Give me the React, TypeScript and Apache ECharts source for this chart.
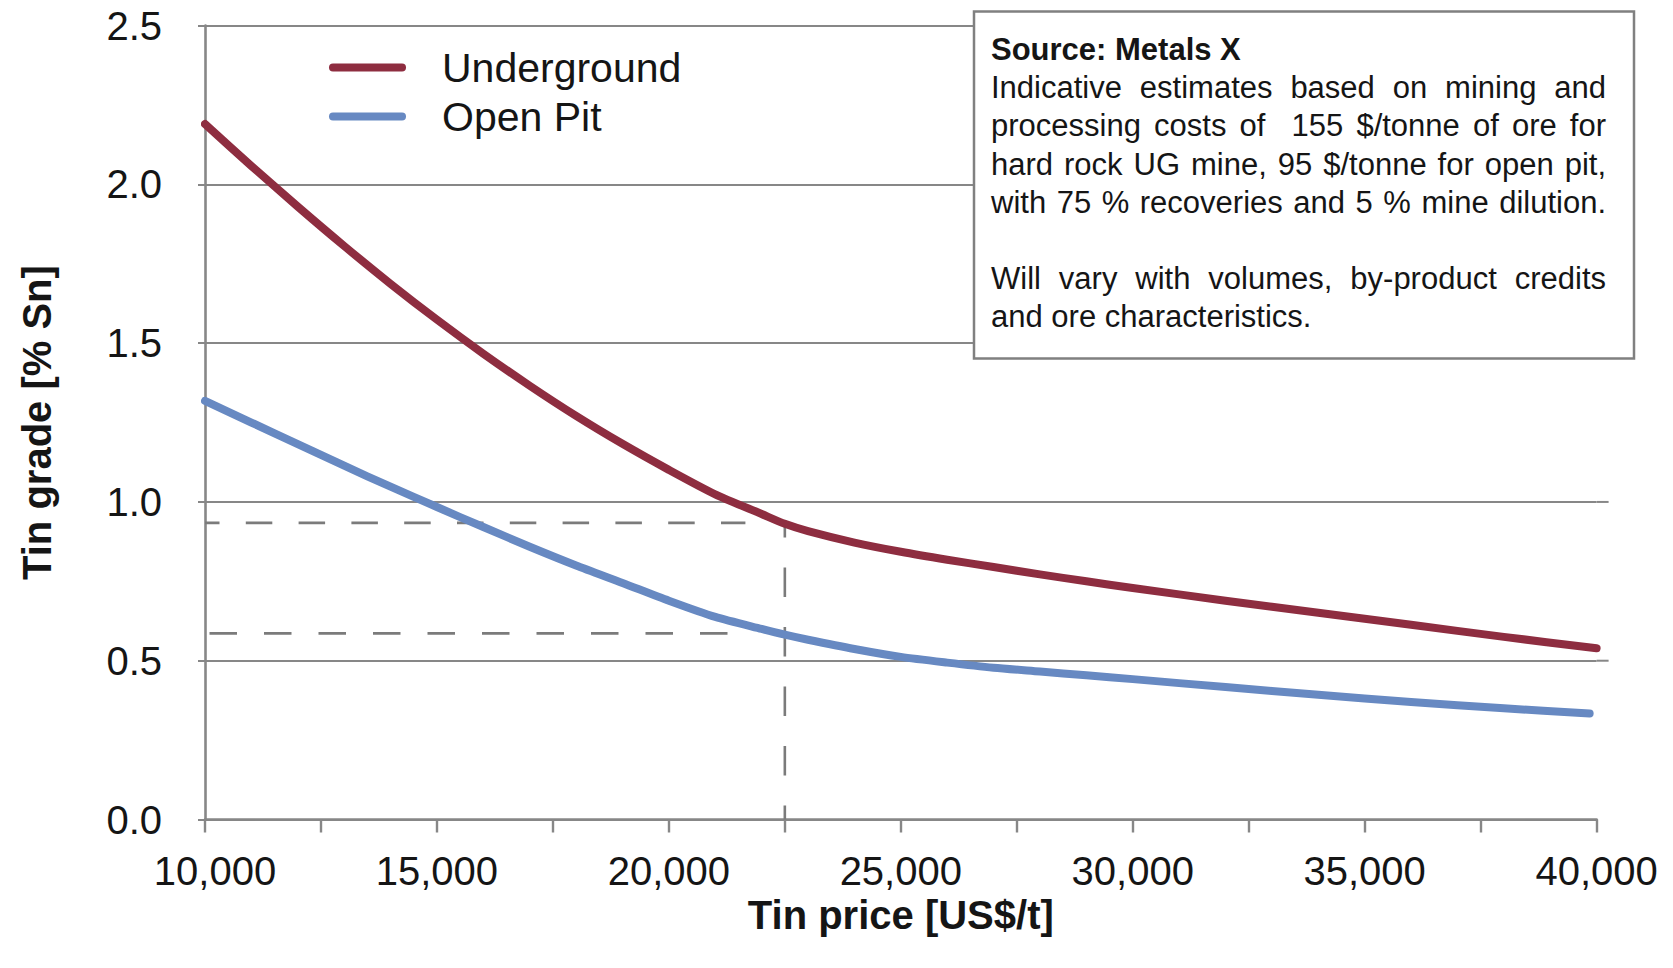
import React, { useEffect, useRef } from "react";
import * as echarts from "echarts";

// ---------- data ----------
const undergroundPrice = [10000, 11000, 12000, 13000, 14000, 15000, 16000, 17000, 18000, 19000, 20000, 21000, 22000, 22500, 23000, 24000, 25000, 26000, 27000, 28000, 29000, 30000, 32000, 34000, 36000, 38000, 40000];
const undergroundGrade = [2.19, 2.058, 1.93, 1.806, 1.687, 1.574, 1.467, 1.366, 1.271, 1.183, 1.101, 1.024, 0.962, 0.931, 0.908, 0.872, 0.843, 0.818, 0.795, 0.772, 0.75, 0.729, 0.689, 0.651, 0.613, 0.575, 0.539];

const openPitPrice = [10000, 11000, 12000, 13000, 14000, 15000, 16000, 17000, 18000, 19000, 20000, 21000, 22000, 22500, 23000, 24000, 25000, 26000, 27000, 28000, 29000, 30000, 32000, 34000, 36000, 38000, 39850];
const openPitGrade = [1.318, 1.25, 1.182, 1.114, 1.048, 0.984, 0.921, 0.859, 0.8, 0.745, 0.689, 0.638, 0.6, 0.582, 0.566, 0.537, 0.512, 0.494, 0.478, 0.466, 0.454, 0.442, 0.417, 0.393, 0.37, 0.35, 0.334];

// reference (dashed) lines: price / grade pairs
const ugRefPrice = [10000, 21650];
const ugRefGrade = [0.934, 0.934];
const opRefPrice = [10000, 21330];
const opRefGrade = [0.586, 0.586];
const priceRefPrice = [22500, 22500];
const priceRefGrade = [0.934, 0];

const gradeTicks = [0.5, 1.0, 1.5, 2.0, 2.5];

const seriesNames = ["Underground", "Open Pit"];
const xTitle = "Tin price [US$/t]";
const yTitle = "Tin grade [% Sn]";

const noteLines = [
  "Source: Metals X",
  "Indicative estimates based on mining and",
  "processing costs of  155 $/tonne of ore for",
  "hard rock UG mine, 95 $/tonne for open pit,",
  "with 75 % recoveries and 5 % mine dilution.",
  "",
  "Will vary with volumes, by-product credits",
  "and ore characteristics.",
];
const noteJustified = [false, true, true, true, true, false, true, false];
const noteBold = [true, false, false, false, false, false, false, false];

// ---------- style ----------
const FONT = "'Liberation Sans', Arial, sans-serif";
const TEXT = "#151515";
const GRID_GRAY = "#878787";
const DASH_GRAY = "#7b7b7b";
const RED = "#8E2D40";
const BLUE = "#6789C2";

const pairs = (xs: number[], ys: number[]) => xs.map((x, i) => [x, ys[i]]);

function buildNote(): any[] {
  const boxX = 974, boxY = 11.5, boxW = 660, boxH = 347;
  const left = 991, right = 1606;
  const firstY = 49.5, step = 38.2, size = 31;
  const canvas = document.createElement("canvas");
  const ctx = canvas.getContext("2d") as CanvasRenderingContext2D;
  const els: any[] = [
    {
      type: "rect",
      shape: { x: boxX, y: boxY, width: boxW, height: boxH },
      style: { fill: "#ffffff", stroke: "#808080", lineWidth: 2.5 },
      z: 100,
    },
  ];
  noteLines.forEach((line, i) => {
    if (!line) return;
    const y = firstY + i * step;
    const weight = noteBold[i] ? "bold" : "normal";
    ctx.font = `${weight} ${size}px 'Liberation Sans'`;
    if (!noteJustified[i]) {
      els.push({
        type: "text",
        x: left,
        y,
        z: 101,
        style: { text: line, fontSize: size, fontFamily: FONT, fontWeight: weight, fill: TEXT, align: "left", verticalAlign: "middle" },
      });
      return;
    }
    const words = line.split(" ");
    const widths = words.map((w) => ctx.measureText(w).width);
    const total = widths.reduce((a, b) => a + b, 0);
    const gap = (right - left - total) / (words.length - 1);
    let x = left;
    words.forEach((w, k) => {
      if (w) {
        els.push({
          type: "text",
          x,
          y,
          z: 101,
          style: { text: w, fontSize: size, fontFamily: FONT, fontWeight: weight, fill: TEXT, align: "left", verticalAlign: "middle" },
        });
      }
      x += widths[k] + gap;
    });
  });
  return els;
}

export default function App() {
  const ref = useRef<HTMLDivElement>(null);

  useEffect(() => {
    if (!ref.current) return;
    const chart = echarts.init(ref.current, undefined, { renderer: "svg" });

    const dashed = (data: number[][], dash: number[], offset: number) => ({
      type: "line",
      data,
      symbol: "none",
      silent: true,
      z: 1,
      lineStyle: { color: DASH_GRAY, width: 2.6, type: dash, dashOffset: offset },
    });

    chart.setOption({
      animation: false,
      backgroundColor: "#ffffff",
      textStyle: { fontFamily: FONT },
      grid: { left: 205, top: 25.6, width: 1391.6, height: 793.9, containLabel: false, outerBoundsMode: "none" },
      legend: {
        data: seriesNames,
        orient: "vertical",
        left: 329,
        top: 47,
        padding: 0,
        itemWidth: 77,
        itemHeight: 8,
        itemGap: 8,
        icon: "path://M4 0H73A4 4 0 0 1 73 8H4A4 4 0 0 1 4 0Z",
        itemStyle: { borderWidth: 0 },
        textStyle: { fontSize: 41, fontFamily: FONT, color: TEXT, lineHeight: 41, padding: [0, 0, 0, 31] },
      },
      xAxis: {
        type: "value",
        min: 10000,
        max: 40000,
        interval: 2500,
        name: xTitle,
        nameLocation: "middle",
        nameGap: 75,
        nameTextStyle: { fontSize: 40, fontWeight: "bold", fontFamily: FONT, color: TEXT },
        axisLine: { show: true, lineStyle: { color: GRID_GRAY, width: 2.6 } },
        axisTick: { show: true, length: 13, lineStyle: { color: GRID_GRAY, width: 2.4 } },
        axisLabel: {
          margin: 31,
          fontSize: 40,
          fontFamily: FONT,
          color: TEXT,
          formatter: (v: number) =>
            v === 10000 ? "{first|" + v.toLocaleString("en-US") + "}" : v % 5000 === 0 ? v.toLocaleString("en-US") : "",
          rich: {
            first: { fontSize: 40, fontFamily: FONT, color: TEXT, padding: [0, 0, 0, 20] },
          },
        },
        splitLine: { show: false },
      },
      yAxis: {
        type: "value",
        min: 0,
        max: 2.5,
        interval: 0.5,
        name: yTitle,
        nameLocation: "middle",
        nameGap: 148,
        nameTextStyle: { fontSize: 40, fontWeight: "bold", fontFamily: FONT, color: TEXT },
        axisLine: { show: true, lineStyle: { color: GRID_GRAY, width: 2.6 } },
        axisTick: { show: true, length: 7, lineStyle: { color: GRID_GRAY, width: 2 } },
        axisLabel: {
          margin: 43,
          fontSize: 40,
          fontFamily: FONT,
          color: TEXT,
          formatter: (v: number) => v.toFixed(1),
        },
        splitLine: { show: true, lineStyle: { color: GRID_GRAY, width: 2 } },
      },
      series: [
        dashed(pairs(ugRefPrice, ugRefGrade), [26.5, 26.3], 12),
        dashed(pairs(opRefPrice, opRefGrade), [27.5, 27], 49.5),
        dashed(pairs(priceRefPrice, priceRefGrade), [29.5, 30], 15),
        {
          name: seriesNames[0],
          type: "line",
          data: pairs(undergroundPrice, undergroundGrade),
          symbol: "none",
          smooth: 0.25,
          z: 3,
          color: RED,
          lineStyle: { color: RED, width: 8, cap: "round", join: "round" },
        },
        {
          name: seriesNames[1],
          type: "line",
          data: pairs(openPitPrice, openPitGrade),
          symbol: "none",
          smooth: 0.25,
          z: 3,
          color: BLUE,
          lineStyle: { color: BLUE, width: 8, cap: "round", join: "round" },
        },
      ],
      graphic: buildNote(),
    });

    // gridlines in the reference run slightly past the end of the x axis
    const xEnd = chart.convertToPixel({ gridIndex: 0 }, [40000, 0]) as number[];
    const extensions = gradeTicks.map((g) => {
      const p = chart.convertToPixel({ gridIndex: 0 }, [40000, g]) as number[];
      return {
        type: "line",
        shape: { x1: xEnd[0], y1: p[1], x2: xEnd[0] + 12, y2: p[1] },
        style: { stroke: GRID_GRAY, lineWidth: 2 },
        z: 0,
        silent: true,
      };
    });
    chart.setOption({ graphic: [...buildNote(), ...extensions] }, { replaceMerge: ["graphic"] });

    return () => chart.dispose();
  }, []);

  return (
    <div
      ref={ref}
      style={{ position: "absolute", left: 0, top: 0, width: 1673, height: 968, background: "#fff" }}
    />
  );
}
